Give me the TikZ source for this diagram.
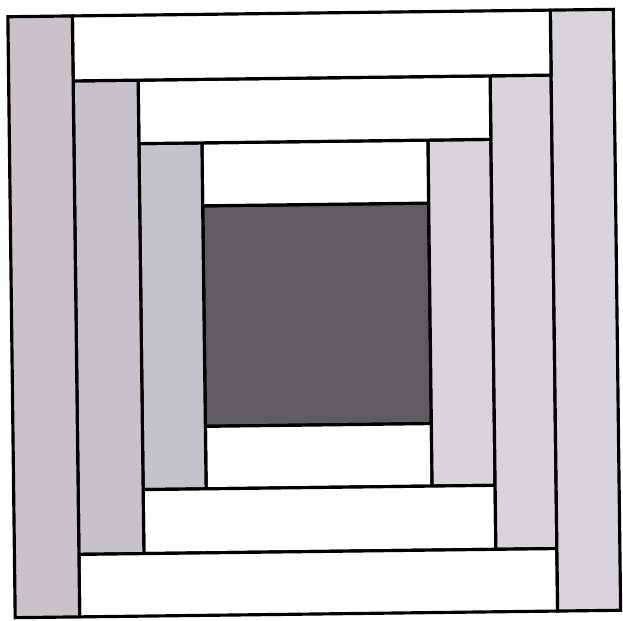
\documentclass[tikz,border=0pt]{standalone}
\definecolor{centre}{RGB}{94,91,97}
\definecolor{duskrose}{RGB}{202,194,199}
\definecolor{mistlilac}{RGB}{198,194,202}
\definecolor{slatemist}{RGB}{195,195,201}
\definecolor{palegrey}{RGB}{215,213,217}
\definecolor{paperwhite}{RGB}{255,255,255}
\begin{document}
\begin{tikzpicture}[x=0.02cm, y=-0.02cm,
    patch/.style={draw=black, line width=1.8pt, line join=miter}]
    % Page
    \fill[white] (0,0) rectangle (623,620);

    \begin{scope}[rotate around={0.7:(314,314)}]
    % Centre square
    \draw[patch, fill=centre] (204,204.5) rectangle (430,425);

    % Inner ring
    \draw[patch, fill=paperwhite] (204,425) rectangle (430,487.5);
    \draw[patch, fill=palegrey] (430,141.5) rectangle (493,487.5);
    \draw[patch, fill=paperwhite] (204,141.5) rectangle (430,204.5);
    \draw[patch, fill=slatemist] (141,141.5) rectangle (204,487.5);

    % Middle ring
    \draw[patch, fill=paperwhite] (141,487.5) rectangle (493,551.5);
    \draw[patch, fill=palegrey] (493,78) rectangle (554,551.5);
    \draw[patch, fill=paperwhite] (141,78) rectangle (493,141.5);
    \draw[patch, fill=mistlilac] (76,78) rectangle (141,551.5);

    % Outer ring
    \draw[patch, fill=paperwhite] (76,551.5) rectangle (554,614);
    \draw[patch, fill=palegrey] (554,13) rectangle (617,614);
    \draw[patch, fill=paperwhite] (76,13) rectangle (554,78);
    \draw[patch, fill=duskrose] (11.5,13) rectangle (76,614);
    \end{scope}
\end{tikzpicture}
\end{document}
